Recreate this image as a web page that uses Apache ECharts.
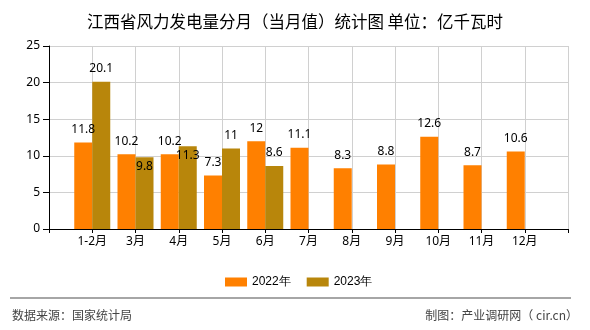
<!DOCTYPE html>
<html>
<head>
<meta charset="utf-8">
<script src="https://cdn.jsdelivr.net/npm/echarts@6/dist/echarts.min.js"></script>
<style>
html,body{margin:0;padding:0;background:#fff;}
#chart{width:590px;height:330px;}
</style>
</head>
<body>
<div id="chart"></div>
<script>
var categories = ['', '1-2月', '3月', '4月', '5月', '6月', '7月', '8月', '9月', '10月', '11月', '12月', ''];
var values2022 = [null, 11.8, 10.2, 10.2, 7.3, 12, 11.1, 8.3, 8.8, 12.6, 8.7, 10.6, null];
var values2023 = [null, 20.1, 9.8, 11.3, 11, 8.6, null, null, null, null, null, null, null];
var seriesNames = ['2022年', '2023年'];
var yTicks = [0, 5, 10, 15, 20, 25];
var insideLabelIdx2023 = [2, 3];

var FONT = '"Noto Sans", "Noto Sans CJK SC", sans-serif';
var chart = echarts.init(document.getElementById('chart'), null, {renderer: 'canvas'});

var data2023 = values2023.map(function (v, i) {
  if (insideLabelIdx2023.indexOf(i) >= 0) {
    return {value: v, label: {position: 'insideTop', distance: 3}};
  }
  return v;
});

chart.setOption({
  animation: false,
  backgroundColor: '#fff',
  title: {
    text: '江西省风力发电量分月（当月值）统计图 单位：亿千瓦时',
    left: 'center',
    top: 8,
    textStyle: {fontSize: 16.5, fontWeight: 'normal', color: '#000', fontFamily: '"Noto Sans CJK SC", sans-serif'}
  },
  legend: {
    data: seriesNames,
    left: 220,
    top: 271,
    itemWidth: 22,
    itemHeight: 9,
    itemGap: 16,
    icon: 'rect',
    textStyle: {fontSize: 12, color: '#000', fontFamily: '"Liberation Sans", Arial, sans-serif'}
  },
  grid: {left: 49, right: 22, top: 46, bottom: 101, containLabel: false},
  xAxis: {
    type: 'category',
    data: categories,
    boundaryGap: false,
    axisLine: {lineStyle: {color: '#000', width: 1}},
    axisTick: {show: true, length: 4, interval: 0, lineStyle: {color: '#000'}},
    axisLabel: {interval: 0, color: '#000', fontSize: 12, margin: 7, fontFamily: FONT},
    splitLine: {show: true, lineStyle: {color: '#d0d0d0', width: 1}}
  },
  yAxis: {
    type: 'value',
    min: yTicks[0],
    max: yTicks[yTicks.length - 1],
    interval: 5,
    axisLine: {show: true, lineStyle: {color: '#000', width: 1}},
    axisTick: {show: true, length: 6, lineStyle: {color: '#000'}},
    axisLabel: {color: '#000', fontSize: 12, margin: 9, fontFamily: FONT},
    splitLine: {show: true, lineStyle: {color: '#d0d0d0', width: 1}}
  },
  series: [
    {
      name: seriesNames[0],
      type: 'bar',
      data: values2022,
      barWidth: 18,
      barGap: '0%',
      itemStyle: {color: '#FF8000'},
      label: {show: true, position: 'top', distance: 7, color: '#000', fontSize: 12, fontFamily: FONT}
    },
    {
      name: seriesNames[1],
      type: 'bar',
      data: data2023,
      barWidth: 18,
      barGap: '0%',
      itemStyle: {color: '#B8860B'},
      label: {show: true, position: 'top', distance: 7, color: '#000', fontSize: 12, fontFamily: FONT}
    }
  ],
  graphic: [
    {type: 'line', shape: {x1: 10, y1: 298, x2: 571, y2: 298}, style: {stroke: '#888', lineWidth: 1.5}},
    {type: 'text', left: 12, top: 309, style: {text: '数据来源：国家统计局', fontSize: 12, fill: '#444', fontFamily: '"Noto Sans CJK SC", sans-serif'}},
    {type: 'text', right: 12, top: 309, style: {text: '制图：产业调研网（ cir.cn）', fontSize: 12, fill: '#444', fontFamily: '"Noto Sans CJK SC", sans-serif'}}
  ]
});
</script>
</body>
</html>
